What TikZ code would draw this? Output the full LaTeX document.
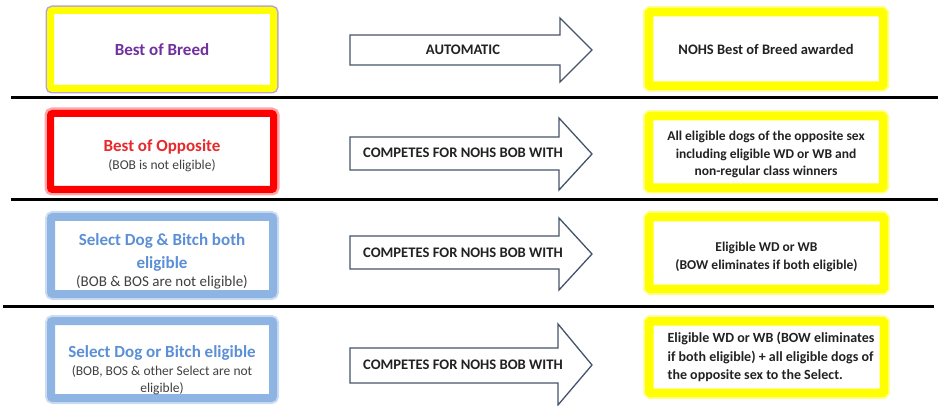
\documentclass[tikz,border=0pt]{standalone}
\usepackage{fontspec}
\setmainfont{Carlito}
\definecolor{purp}{HTML}{7030A0}
\definecolor{rim}{HTML}{B8A2DA}
\definecolor{redb}{HTML}{FF0000}
\definecolor{redt}{HTML}{E8282B}
\definecolor{blueb}{HTML}{8EB4E3}
\definecolor{bluet}{HTML}{5B8FD6}
\definecolor{yel}{HTML}{FFFF00}
\definecolor{arr}{HTML}{44546A}
\definecolor{sub}{HTML}{404040}
\definecolor{txt}{HTML}{222222}
\newcommand\mysubA{\fontsize{13.5}{18}\selectfont\mdseries\color{sub}}
\newcommand\mysubB{\fontsize{15}{18}\selectfont\mdseries\color{sub}}
\begin{document}
\begin{tikzpicture}[x=1pt,y=-1pt,
  lbox/.style={rectangle, rounded corners=2pt, line width=7pt, fill=white,
    minimum width=223pt, minimum height=78pt, inner sep=0pt},
  ltext/.style={inner sep=0pt, align=center, font=\bfseries\fontsize{17}{18}\selectfont},
  rbox/.style={rectangle, rounded corners=1pt, line width=8.5pt, draw=yel, fill=white,
    minimum width=234pt, minimum height=73.5pt, inner sep=0pt,
    preaction={draw=yel!45, line width=12pt}},
  rtext/.style={inner sep=0pt, align=center, font=\bfseries\fontsize{13.5}{17.5}\selectfont, text=txt},
  arrowshape/.style={draw=arr, line width=1.3pt, fill=white, line join=miter},
  arrtext/.style={font=\bfseries\fontsize{14.6}{16}\selectfont, text=txt, inner sep=0pt},
  sep/.style={line width=3pt, black}
]
\useasboundingbox (0,0) rectangle (940,406);

% separators
\coordinate (s1a) at (11,98);  \coordinate (s1b) at (938,98);
\coordinate (s2a) at (11,200); \coordinate (s2b) at (938,200);
\coordinate (s3a) at (3,306);  \coordinate (s3b) at (934,306);
\draw[sep] (s1a) -- (s1b);
\draw[sep] (s2a) -- (s2b);
\draw[sep] (s3a) -- (s3b);

% left boxes
\node[lbox, draw=yel, preaction={draw=rim, line width=10pt}] (l1box) at (162,49.5) {};
\node[lbox, draw=redb, preaction={draw=redb!35, line width=12pt}, minimum height=76pt] (l2box) at (162,151.5) {};
\node[lbox, draw=blueb, line width=8pt, preaction={draw=blueb!45, line width=12pt}, minimum width=222pt, minimum height=77pt] (l3box) at (162,255.5) {};
\node[lbox, draw=blueb, line width=8pt, preaction={draw=blueb!45, line width=12pt}, minimum width=222pt, minimum height=77pt] (l4box) at (162,359.5) {};

\node[ltext, text=purp] (l1) at (162,50) {Best of Breed};
\node[ltext, text=redt] (l2) at (162,155.5) {Best of Opposite\\[0pt]
  \mysubA (BOB is not eligible)};
\node[ltext, text=bluet] (l3) at (162,261) {Select Dog \& Bitch both\\[5pt]
  eligible\\[0pt]
  \mysubB (BOB \& BOS are not eligible)};
\node[ltext, text=bluet] (l4) at (162,370) {Select Dog or Bitch eligible\\[0pt]
  \mysubA (BOB, BOS \& other Select are not\\[-1pt]
  \mysubA eligible)};

% right boxes
\node[rbox] (r1box) at (766,49) {};
\node[rbox, minimum height=71.5pt] (r2box) at (766,152) {};
\node[rbox, minimum height=71.5pt, minimum width=234.5pt] (r3box) at (766.5,253) {};
\node[rbox, minimum height=71.5pt, minimum width=234.5pt] (r4box) at (766.5,357) {};

\node[rtext, font=\bfseries\fontsize{14.5}{17.5}\selectfont] (r1) at (766,49) {NOHS Best of Breed awarded};
\node[rtext] (r2) at (766,154.5) {All eligible dogs of the opposite sex\\including eligible WD or WB and\\non-regular class winners};
\node[rtext] (r3) at (766.5,257) {Eligible WD or WB\\(BOW eliminates if both eligible)};
\node[rtext, align=left, font=\bfseries\fontsize{14}{18.5}\selectfont] (r4) at (771,357) {Eligible WD or WB (BOW eliminates\\if both eligible) + all eligible dogs of\\the opposite sex to the Select.};

% arrows
\draw[arrowshape] (350,35) -- (560,35) -- (560,18) -- (592,50) -- (560,82) -- (560,65) -- (350,65) -- cycle;
\node[arrtext] (a1) at (463,50) {AUTOMATIC};
\draw[arrowshape] (350,137) -- (559,137) -- (559,118) -- (592,154) -- (559,190) -- (559,170) -- (350,170) -- cycle;
\node[arrtext] (a2) at (463,153) {COMPETES FOR NOHS BOB WITH};
\draw[arrowshape] (350,236) -- (559,236) -- (559,218) -- (592,254) -- (559,290) -- (559,269) -- (350,269) -- cycle;
\node[arrtext] (a3) at (463,253) {COMPETES FOR NOHS BOB WITH};
\draw[arrowshape] (350,348) -- (558,348) -- (558,324) -- (592,365) -- (558,405) -- (558,383) -- (350,383) -- cycle;
\node[arrtext] (a4) at (463,365) {COMPETES FOR NOHS BOB WITH};
\end{tikzpicture}
\end{document}
